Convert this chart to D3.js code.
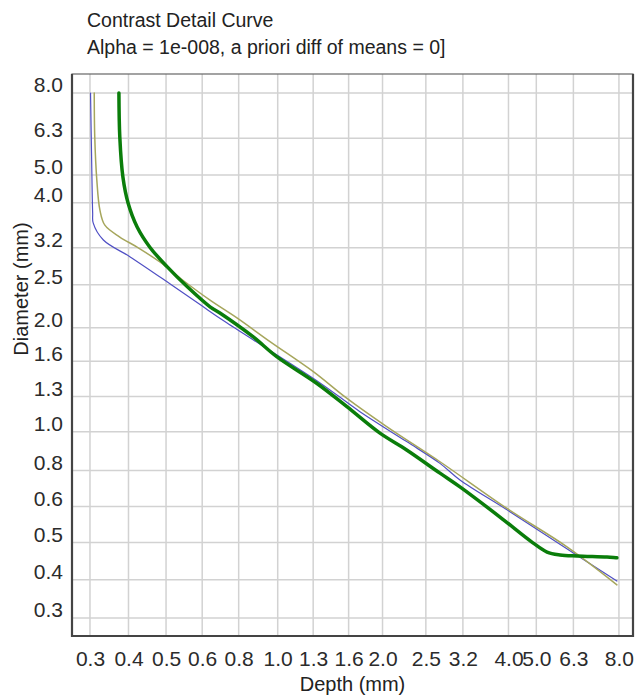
<!DOCTYPE html>
<html>
<head>
<meta charset="utf-8">
<script src="https://cdn.jsdelivr.net/npm/d3@7"></script>
<style>
    body { margin: 0; background: #fff; }
    svg text { font-family: "Liberation Sans", Arial, sans-serif; }
</style>
</head>
<body>
<div id="chart"></div>
<script>
// gridline values (the program places them a bit off the rounded labels)
const gridValues = [0.3, 0.381, 0.481, 0.602, 0.755, 0.962, 1.199, 1.494, 1.844, 2.413, 3.037, 4.03, 4.79, 6.03, 8.0];
const gridLabels = ["0.3", "0.4", "0.5", "0.6", "0.8", "1.0", "1.3", "1.6", "2.0", "2.5", "3.2", "4.0", "5.0", "6.3", "8.0"];

// [depth, diameter]
const blueCurve = [[0.301, 8.0], [0.303, 5.37], [0.305, 3.78], [0.306, 3.55], [0.326, 3.19], [0.385, 2.87],
    [0.483, 2.46], [0.594, 2.13], [0.701, 1.90], [1.251, 1.305], [1.603, 1.09], [2.142, 0.904], [2.634, 0.789],
    [2.982, 0.711], [3.993, 0.590], [6.015, 0.451], [7.9, 0.378]];
const oliveCurve = [[0.308, 8.0], [0.309, 6.08], [0.313, 4.64], [0.319, 3.85], [0.329, 3.50], [0.361, 3.25],
    [0.402, 3.05], [0.463, 2.78], [0.534, 2.48], [0.632, 2.19], [0.747, 1.96], [0.917, 1.69], [1.20, 1.40],
    [1.476, 1.186], [1.892, 0.993], [2.634, 0.797], [3.993, 0.595], [5.795, 0.468], [7.9, 0.369]];
const greenCurve = [[0.359, 8.0], [0.361, 6.07], [0.368, 4.73], [0.380, 4.02], [0.402, 3.46], [0.435, 3.05],
    [0.484, 2.70], [0.549, 2.38], [0.632, 2.10], [0.672, 2.02], [0.825, 1.742], [0.956, 1.538], [1.225, 1.302],
    [1.478, 1.125], [1.815, 0.953], [2.142, 0.858], [2.634, 0.742], [2.982, 0.681], [3.823, 0.564], [4.69, 0.480],
    [5.12, 0.453], [5.55, 0.445], [6.17, 0.442], [7.43, 0.439], [7.9, 0.437]];

const seriesList = [
    { name: "blue", values: blueCurve, color: "#4f4fc4", width: 1.2 },
    { name: "olive", values: oliveCurve, color: "#a6a65c", width: 1.5 },
    { name: "green", values: greenCurve, color: "#0a7d0a", width: 3.5 }
];

class ContrastDetailVis {
    constructor(_parentElement, _series) {
        this.parentElement = _parentElement;
        this.series = _series;
        this.initVis();
    }

    initVis() {
        let vis = this;
        vis.margin = { top: 74, right: 6, bottom: 60, left: 72 };
        vis.width = 639 - vis.margin.left - vis.margin.right;
        vis.height = 696 - vis.margin.top - vis.margin.bottom;

        vis.root = d3.select("#" + vis.parentElement).append("svg")
            .attr("width", 639)
            .attr("height", 696);

        vis.svg = vis.root.append("g")
            .attr("transform", "translate(" + vis.margin.left + "," + vis.margin.top + ")");

        vis.x = d3.scaleLog()
            .domain([0.2683, 8.73])
            .range([0, vis.width]);

        vis.y = d3.scaleLog()
            .domain([0.268, 9.01])
            .range([vis.height, 0]);

        // titles
        vis.root.append("text")
            .attr("x", 87).attr("y", 27)
            .attr("font-size", 19.5).attr("fill", "#222")
            .text("Contrast Detail Curve");
        vis.root.append("text")
            .attr("x", 87).attr("y", 54)
            .attr("font-size", 19.5).attr("fill", "#222")
            .text("Alpha = 1e-008, a priori diff of means = 0]");

        vis.updateVis();
    }

    updateVis() {
        let vis = this;

        // grid
        vis.svg.append("g").selectAll("line")
            .data(gridValues)
            .enter().append("line")
            .attr("x1", d => vis.x(d)).attr("x2", d => vis.x(d))
            .attr("y1", 0).attr("y2", vis.height)
            .attr("stroke", "#d2d2d2").attr("stroke-width", 1.5);

        vis.svg.append("g").selectAll("line")
            .data(gridValues)
            .enter().append("line")
            .attr("y1", d => vis.y(d)).attr("y2", d => vis.y(d))
            .attr("x1", 0).attr("x2", vis.width)
            .attr("stroke", "#d2d2d2").attr("stroke-width", 1.5);

        // axes, labels only
        vis.xAxis = d3.axisBottom(vis.x)
            .tickValues(gridValues)
            .tickFormat((d, i) => gridLabels[i])
            .tickSize(0)
            .tickPadding(15);
        vis.yAxis = d3.axisLeft(vis.y)
            .tickValues(gridValues)
            .tickFormat((d, i) => gridLabels[i])
            .tickSize(0)
            .tickPadding(9);

        let xg = vis.svg.append("g")
            .attr("transform", "translate(0," + vis.height + ")")
            .call(vis.xAxis);
        let yg = vis.svg.append("g").call(vis.yAxis);

        [xg, yg].forEach(g => {
            g.select(".domain").remove();
            g.selectAll("text")
                .attr("font-size", 21)
                .attr("fill", "#2b2b2b")
                .style("font-family", "'Liberation Sans', Arial, sans-serif");
        });
        yg.selectAll("text").attr("dy", "-0.06em");

        // frame
        vis.svg.append("rect")
            .attr("width", vis.width).attr("height", vis.height)
            .attr("fill", "none").attr("stroke", "#666").attr("stroke-width", 1.2);
        vis.svg.append("path")
            .attr("d", "M0,0V" + vis.height + "H" + vis.width + "V0")
            .attr("fill", "none").attr("stroke", "#444").attr("stroke-width", 2.2);

        // curves
        let line = d3.line()
            .x(d => vis.x(d[0]))
            .y(d => vis.y(d[1]))
            .curve(d3.curveCatmullRom.alpha(0.5));

        vis.svg.append("g").selectAll("path")
            .data(vis.series)
            .enter().append("path")
            .attr("d", d => line(d.values))
            .attr("fill", "none")
            .attr("stroke", d => d.color)
            .attr("stroke-width", d => d.width)
            .attr("stroke-linejoin", "round")
            .attr("stroke-linecap", "round");

        // axis titles
        vis.root.append("text")
            .attr("x", vis.margin.left + vis.width / 2).attr("y", 691)
            .attr("text-anchor", "middle")
            .attr("font-size", 20).attr("fill", "#222")
            .text("Depth (mm)");
        vis.root.append("text")
            .attr("transform", "translate(28,289) rotate(-90)")
            .attr("text-anchor", "middle")
            .attr("font-size", 20).attr("fill", "#222")
            .text("Diameter (mm)");
    }
}

new ContrastDetailVis("chart", seriesList);
</script>
</body>
</html>
